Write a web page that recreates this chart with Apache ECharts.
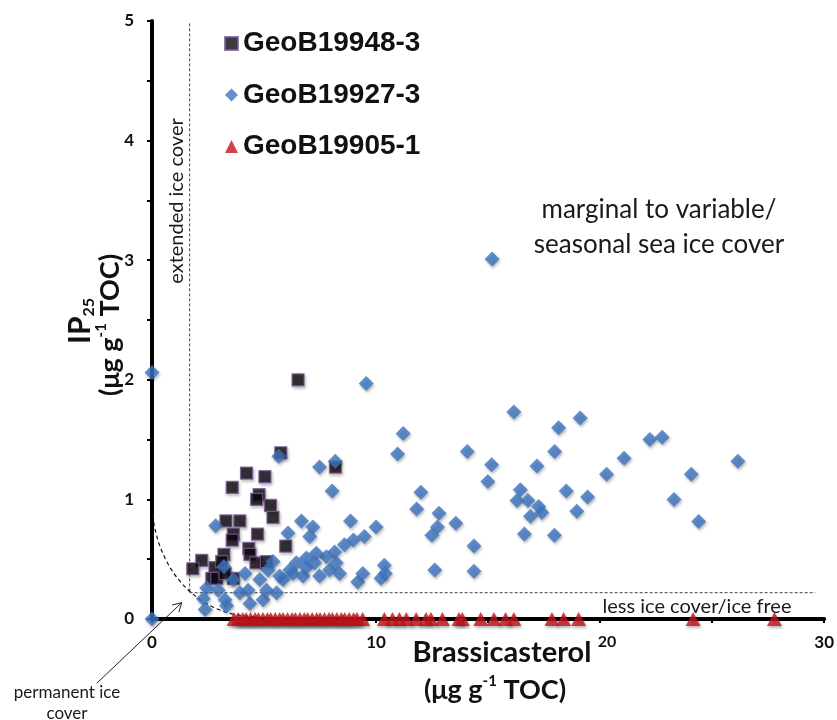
<!DOCTYPE html>
<html><head><meta charset="utf-8">
<script src="https://cdn.jsdelivr.net/npm/echarts@6/dist/echarts.min.js"></script>
<style>html,body{margin:0;padding:0;background:#fff}#c{width:837px;height:720px}</style>
</head><body><div id="c"></div>
<script>
// ---- data ----
const seriesNames = ['GeoB19948-3', 'GeoB19927-3', 'GeoB19905-1'];

// GeoB19948-3 [Brassicasterol, IP25]
const geoB19948 = [
  [6.52,2.00],[5.75,1.39],[8.19,1.27],[4.22,1.22],[5.04,1.19],[3.58,1.10],[4.78,1.04],
  [4.67,1.00],[5.29,0.95],[5.40,0.85],[3.30,0.82],[3.92,0.82],[3.63,0.71],[4.71,0.71],
  [3.58,0.66],[5.97,0.61],[4.32,0.59],[4.37,0.54],[3.21,0.54],[2.22,0.49],[1.82,0.42],
  [4.64,0.47],[5.11,0.48],[2.81,0.43],[2.67,0.34],[2.89,0.34],[3.63,0.34],[3.26,0.38],
  [3.11,0.48]
];

// GeoB19927-3
const geoB19927 = [
  [0.00,2.06],[0.00,0.00],[9.56,1.97],[5.66,1.36],[7.48,1.27],[8.18,1.32],[8.04,1.07],
  [2.84,0.78],[6.67,0.82],[7.18,0.77],[6.07,0.72],[7.04,0.69],[8.86,0.82],[10.00,0.77],
  [9.48,0.69],[8.99,0.66],[8.59,0.62],[8.15,0.56],[7.78,0.52],[7.33,0.55],[6.89,0.51],
  [6.44,0.47],[6.15,0.41],[5.40,0.48],[5.18,0.41],[5.70,0.36],[4.81,0.33],[4.15,0.38],
  [3.21,0.44],[3.63,0.33],[2.44,0.26],[2.29,0.17],[2.37,0.08],[2.96,0.24],[3.26,0.16],
  [3.33,0.11],[3.92,0.22],[4.37,0.13],[4.29,0.24],[4.96,0.16],[5.11,0.24],[5.56,0.22],
  [5.85,0.33],[6.29,0.38],[6.74,0.36],[6.89,0.43],[7.26,0.47],[7.48,0.36],[7.92,0.41],
  [8.22,0.47],[8.37,0.38],[9.18,0.31],[9.41,0.38],[10.37,0.45],[10.41,0.38],[10.22,0.34],
  [11.21,1.55],[10.96,1.38],[16.15,1.73],[18.15,1.60],[19.11,1.68],[14.07,1.40],[15.16,1.29],
  [14.99,1.15],[17.97,1.40],[17.18,1.28],[22.22,1.50],[22.77,1.52],[21.07,1.345],[20.29,1.21],
  [26.15,1.32],[24.07,1.21],[23.30,1.00],[24.40,0.815],[12.00,1.06],[11.81,0.92],[12.81,0.885],
  [12.74,0.77],[12.49,0.70],[13.56,0.80],[14.37,0.61],[12.62,0.41],[14.37,0.40],[16.44,1.08],
  [16.29,0.99],[16.78,0.99],[17.26,0.94],[16.89,0.86],[17.40,0.89],[16.62,0.71],[17.96,0.70],
  [18.49,1.07],[19.44,1.02],[18.96,0.90],[15.18,3.01]
];

// GeoB19905-1 (Brassicasterol values; IP25 = 0)
const geoB19905_x = [
  3.66,3.85,4.05,4.20,4.40,4.60,4.75,4.95,5.15,5.30,5.50,5.70,5.85,6.05,6.25,6.40,6.60,
  6.80,6.95,7.15,7.35,7.50,7.70,7.90,8.05,8.25,8.45,8.60,8.80,9.00,9.15,9.40,
  10.37,10.73,11.04,11.35,11.79,12.23,12.45,12.96,13.70,13.85,
  14.67,15.26,15.78,16.15,17.85,18.37,19.04,24.15,27.78
];
const geoB19905_y = geoB19905_x.map(() => 0);

const xTickLabels = [0, 10, 20, 30];
const yTickLabels = [0, 1, 2, 3, 4, 5];

// annotation anchors (data space)
const boundaryX = 1.68, boundaryY = 0.22, boundaryXEnd = 29.6;
const arcPts = [[0.03,0.87],[0.37,0.33],[2.4,0.02],[4.6,0.02]];

const FONT = 'Lato, "Noto Sans", sans-serif';

const chart = echarts.init(document.getElementById('c'), null, {renderer: 'canvas'});

const shadow = {shadowBlur: 3, shadowColor: 'rgba(0,0,0,0.35)', shadowOffsetX: 1, shadowOffsetY: 2};

chart.setOption({
  animation: false,
  backgroundColor: '#fff',
  grid: {left: 152, right: 10, top: 21, bottom: 101},
  legend: {
    orient: 'vertical', left: 219, top: 23, itemGap: 20.5,
    itemWidth: 13, itemHeight: 13,
    textStyle: {fontFamily: '"Liberation Sans", Arial, sans-serif', fontWeight: 'bold', fontSize: 28, color: '#111', lineHeight: 31},
    data: seriesNames
  },
  xAxis: {
    type: 'value', min: 0, max: 30, interval: 5,
    splitLine: {show: false},
    axisLine: {onZero: false, lineStyle: {color: '#000', width: 4}},
    axisTick: {show: true, length: 4, lineStyle: {color: '#000', width: 2}},
    axisLabel: {margin: 15, fontFamily: FONT, fontWeight: 'bold', fontSize: 17, color: '#111',
      formatter: v => !xTickLabels.includes(v) ? '' : (v === 20 ? '{r|20}' : String(v)),
      rich: {r: {fontFamily: FONT, fontWeight: 'bold', fontSize: 16, color: '#111', padding: [0, 0, 6, 14]}}}
  },
  yAxis: {
    type: 'value', min: 0, max: 5, interval: 0.5,
    splitLine: {show: false},
    axisLine: {onZero: false, lineStyle: {color: '#000', width: 4}},
    axisTick: {show: true, length: 5, lineStyle: {color: '#000', width: 2}},
    axisLabel: {margin: 18, fontFamily: FONT, fontWeight: 'bold', fontSize: 17, color: '#111',
      formatter: v => yTickLabels.includes(v) ? String(v) : ''}
  },
  series: [
    {name: seriesNames[0], type: 'scatter', symbol: 'rect', symbolSize: 12, clip: false,
      itemStyle: Object.assign({color: '#0e090d', borderColor: '#7c5a9e', borderWidth: 1.2}, shadow),
      data: geoB19948},
    {name: seriesNames[1], type: 'scatter', symbol: 'diamond', symbolSize: 15, clip: false,
      itemStyle: Object.assign({color: '#3d74c2'}, shadow),
      data: geoB19927},
    {name: seriesNames[2], type: 'scatter', symbol: 'triangle', symbolSize: [15, 14], clip: false,
      itemStyle: Object.assign({color: '#c0141a'}, shadow),
      data: geoB19905_x.map((x, i) => [x, geoB19905_y[i]])}
  ]
});

function px(p) { return chart.convertToPixel({gridIndex: 0}, p); }

const corner = px([boundaryX, boundaryY]);
const vTop = px([boundaryX, 4.98]);
const hEnd = px([boundaryXEnd, boundaryY]);
const a0 = px(arcPts[0]), a1 = px(arcPts[1]), a2 = px(arcPts[2]), a3 = px(arcPts[3]);

// arrow for "permanent ice cover"
const arrowStart = [96.7, 683.3], arrowTip = [181.7, 602.7];
const dx = arrowTip[0] - arrowStart[0], dy = arrowTip[1] - arrowStart[1];
const L = Math.hypot(dx, dy), ux = dx / L, uy = dy / L;
function arm(sign) {
  const ang = sign * Math.PI / 6, len = 10;
  const cx = -ux, cy = -uy;
  return [arrowTip[0] + len * (cx * Math.cos(ang) - cy * Math.sin(ang)),
          arrowTip[1] + len * (cx * Math.sin(ang) + cy * Math.cos(ang))];
}

const dash = {stroke: '#444', lineWidth: 1, lineDash: [3, 2]};
const txt = (x, y, text, size, extra) => Object.assign({
  type: 'text', x: x, y: y, z: 10,
  style: {text: text, fontFamily: FONT, fontSize: size, fill: '#1a1a1a', align: 'center', verticalAlign: 'middle'}
}, extra || {});

chart.setOption({
  graphic: [
    {type: 'line', shape: {x1: vTop[0], y1: vTop[1], x2: corner[0], y2: corner[1]}, style: dash, z: 1},
    {type: 'line', shape: {x1: corner[0], y1: corner[1], x2: hEnd[0], y2: hEnd[1]}, style: dash, z: 1},
    {type: 'bezierCurve', shape: {x1: a0[0], y1: a0[1], cpx1: a1[0], cpy1: a1[1], cpx2: a2[0], cpy2: a2[1], x2: a3[0], y2: a3[1]},
      style: {stroke: '#111', lineWidth: 1.2, lineDash: [4, 3], fill: null}, z: 1},
    {type: 'polyline', shape: {points: [arrowStart, arrowTip]}, style: {stroke: '#222', lineWidth: 1}, z: 1},
    {type: 'polyline', shape: {points: [arm(1), arrowTip, arm(-1)]}, style: {stroke: '#222', lineWidth: 1, fill: null}, z: 1},
    txt(177, 201, 'extended ice cover', 20, {rotation: Math.PI / 2}),
    txt(659, 210, 'marginal to variable/', 26),
    txt(659, 245, 'seasonal sea ice cover', 26),
    txt(697, 607, 'less ice cover/ice free', 20),
    txt(67, 693, 'permanent ice', 17),
    txt(67, 714, 'cover', 17),
    {type: 'text', x: 502, y: 653, z: 10,
      style: {text: 'Brassicasterol', fontFamily: FONT, fontWeight: 'bold', fontSize: 29, fill: '#111', align: 'center', verticalAlign: 'middle'}},
    {type: 'text', x: 495, y: 690, z: 10,
      style: {text: '{n|(μg g}{s|-1}{n| TOC)}', align: 'center', verticalAlign: 'middle',
        rich: {n: {fontFamily: FONT, fontWeight: 'bold', fontSize: 27, fill: '#111', lineHeight: 32},
               s: {fontFamily: FONT, fontWeight: 'bold', fontSize: 15, fill: '#111', verticalAlign: 'top', lineHeight: 16}}}},
    {type: 'text', x: 80, y: 321, z: 10, rotation: Math.PI / 2,
      style: {text: '{n|IP}{s|25}', align: 'center', verticalAlign: 'middle',
        rich: {n: {fontFamily: FONT, fontWeight: 'bold', fontSize: 30, fill: '#111', lineHeight: 34},
               s: {fontFamily: FONT, fontWeight: 'bold', fontSize: 16, fill: '#111', verticalAlign: 'bottom', lineHeight: 16}}}},
    {type: 'text', x: 110, y: 325, z: 10, rotation: Math.PI / 2,
      style: {text: '{n|(μg g}{s|-1}{n| TOC)}', align: 'center', verticalAlign: 'middle',
        rich: {n: {fontFamily: FONT, fontWeight: 'bold', fontSize: 27, fill: '#111', lineHeight: 32},
               s: {fontFamily: FONT, fontWeight: 'bold', fontSize: 15, fill: '#111', verticalAlign: 'top', lineHeight: 16}}}}
  ]
});
</script></body></html>
